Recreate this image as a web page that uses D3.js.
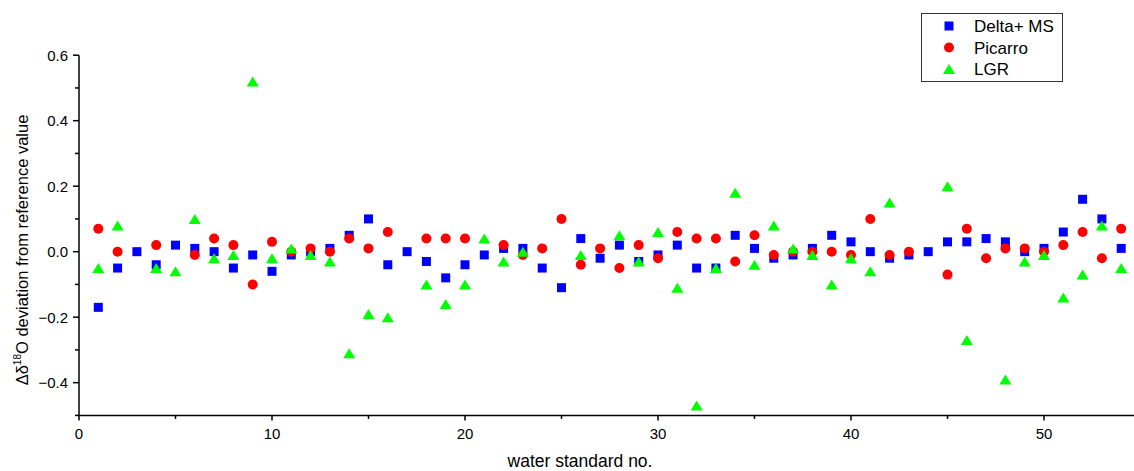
<!DOCTYPE html>
<html>
<head>
<meta charset="utf-8">
<script src="https://cdn.jsdelivr.net/npm/d3@7"></script>
<style>
  html, body { margin: 0; padding: 0; background: #fff; }
  svg { display: block; font-family: "Liberation Sans", Arial, Helvetica, sans-serif; }
</style>
</head>
<body>
<svg id="chart" width="1134" height="471"></svg>
<script>
// Water standard numbers (x categories)
const standardNo = d3.range(1, 55);

// Deviation of δ18O from the reference value, per instrument (null = not measured)
const deltaMS = [
  -0.17, -0.05, 0.00, -0.04, 0.02, 0.01, 0.00, -0.05, -0.01, -0.06,
  -0.01, 0.00, 0.01, 0.05, 0.10, -0.04, 0.00, -0.03, -0.08, -0.04,
  -0.01, 0.01, 0.01, -0.05, -0.11, 0.04, -0.02, 0.02, -0.03, -0.01,
  0.02, -0.05, -0.05, 0.05, 0.01, -0.02, -0.01, 0.01, 0.05, 0.03,
  0.00, -0.02, -0.01, 0.00, 0.03, 0.03, 0.04, 0.03, 0.00, 0.01,
  0.06, 0.16, 0.10, 0.01
];
const picarro = [
  0.07, 0.00, null, 0.02, null, -0.01, 0.04, 0.02, -0.10, 0.03,
  0.00, 0.01, 0.00, 0.04, 0.01, 0.06, null, 0.04, 0.04, 0.04,
  null, 0.02, -0.01, 0.01, 0.10, -0.04, 0.01, -0.05, 0.02, -0.02,
  0.06, 0.04, 0.04, -0.03, 0.05, -0.01, 0.00, 0.00, 0.00, -0.01,
  0.10, -0.01, 0.00, null, -0.07, 0.07, -0.02, 0.01, 0.01, 0.00,
  0.02, 0.06, -0.02, 0.07
];
const lgr = [
  -0.05, 0.08, null, -0.05, -0.06, 0.10, -0.02, -0.01, 0.52, -0.02,
  0.01, -0.01, -0.03, -0.31, -0.19, -0.20, null, -0.10, -0.16, -0.10,
  0.04, -0.03, 0.00, null, null, -0.01, null, 0.05, -0.03, 0.06,
  -0.11, -0.47, -0.05, 0.18, -0.04, 0.08, 0.01, -0.01, -0.10, -0.02,
  -0.06, 0.15, null, null, 0.20, -0.27, null, -0.39, -0.03, -0.01,
  -0.14, -0.07, 0.08, -0.05
];

// Axis tick values
const xMajorTicks = [0, 10, 20, 30, 40, 50];
const xMinorTicks = [5, 15, 25, 35, 45, 55];
const yMajorTicks = [-0.4, -0.2, 0.0, 0.2, 0.4, 0.6];
const yMinorTicks = [-0.5, -0.3, -0.1, 0.1, 0.3, 0.5];

const seriesNames = ["Delta+ MS", "Picarro", "LGR"];

const svg = d3.select("#chart");

const x = d3.scaleLinear().domain([0, 55]).range([79, 1140.5]);
const y = d3.scaleLinear().domain([-0.5, 0.6]).range([415.4, 55.2]);

// Symbol path generators
const squarePath = s => `M${-s/2},${-s/2}h${s}v${s}h${-s}Z`;
const trianglePath = (w, h) => `M0,${-h/2}L${w/2},${h/2}L${-w/2},${h/2}Z`;

const series = [
  { name: seriesNames[0], values: deltaMS, color: "#0000ff", shape: "square" },
  { name: seriesNames[1], values: picarro, color: "#ff0000", shape: "circle" },
  { name: seriesNames[2], values: lgr,     color: "#00ff00", shape: "triangle" }
];

function drawSymbol(g, shape, color) {
  if (shape === "circle") {
    g.append("circle").attr("r", 5).attr("fill", color);
  } else if (shape === "square") {
    g.append("path").attr("d", squarePath(9)).attr("fill", color);
  } else {
    g.append("path").attr("d", trianglePath(12, 10)).attr("fill", color);
  }
}

// Axes
const axisG = svg.append("g").attr("stroke", "#000").attr("stroke-width", 1.5);
axisG.append("line").attr("x1", x(0)).attr("x2", 1134).attr("y1", y(-0.5)).attr("y2", y(-0.5));
axisG.append("line").attr("x1", x(0)).attr("x2", x(0)).attr("y1", y(-0.5) + 0.75).attr("y2", y(0.6));

// X ticks
axisG.selectAll(".xmaj").data(xMajorTicks).join("line")
  .attr("x1", d => x(d)).attr("x2", d => x(d))
  .attr("y1", y(-0.5)).attr("y2", y(-0.5) + 5);
axisG.selectAll(".xmin").data(xMinorTicks).join("line")
  .attr("x1", d => x(d)).attr("x2", d => x(d))
  .attr("y1", y(-0.5)).attr("y2", y(-0.5) + 3.5);

// Y ticks
axisG.selectAll(".ymaj").data(yMajorTicks).join("line")
  .attr("x1", x(0) - 6).attr("x2", x(0))
  .attr("y1", d => y(d)).attr("y2", d => y(d));
axisG.selectAll(".ymin").data(yMinorTicks).join("line")
  .attr("x1", x(0) - 4).attr("x2", x(0))
  .attr("y1", d => y(d)).attr("y2", d => y(d));

// Tick labels
svg.append("g").selectAll("text").data(xMajorTicks).join("text")
  .attr("x", d => x(d)).attr("y", 439)
  .attr("text-anchor", "middle").attr("font-size", 15).attr("fill", "#000")
  .text(d => d);

svg.append("g").selectAll("text").data(yMajorTicks).join("text")
  .attr("x", 68).attr("y", d => y(d) + 5.4)
  .attr("text-anchor", "end").attr("font-size", 15).attr("fill", "#000")
  .text(d => d3.format(".1f")(d));

// Axis titles
svg.append("text")
  .attr("x", 580).attr("y", 467)
  .attr("text-anchor", "middle").attr("font-size", 17.5).attr("fill", "#000")
  .text("water standard no.");

const yTitle = svg.append("text")
  .attr("transform", "translate(28,250) rotate(-90)")
  .attr("text-anchor", "middle").attr("font-size", 16.5).attr("fill", "#000");
yTitle.append("tspan").text("Δδ");
yTitle.append("tspan").attr("font-size", 10).attr("dy", -7).text("18");
yTitle.append("tspan").attr("dy", 7).text("O deviation from reference value");

// Data points: squares, then circles, then triangles on top
series.forEach(s => {
  const pts = standardNo.map((n, i) => ({ n, v: s.values[i] })).filter(d => d.v !== null);
  const g = svg.append("g");
  pts.forEach(d => {
    const pg = g.append("g").attr("transform", `translate(${x(d.n)},${y(d.v)})`);
    drawSymbol(pg, s.shape, s.color);
  });
});

// Legend
const legend = svg.append("g");
legend.append("rect")
  .attr("x", 921.5).attr("y", 13.5).attr("width", 141).attr("height", 68)
  .attr("fill", "#fff").attr("stroke", "#333").attr("stroke-width", 1);
series.forEach((s, i) => {
  const cy = 26 + i * 21.5;
  const sg = legend.append("g").attr("transform", `translate(949,${cy})`);
  drawSymbol(sg, s.shape, s.color);
  legend.append("text")
    .attr("x", 974).attr("y", cy + 6)
    .attr("font-size", 17).attr("fill", "#000")
    .text(s.name);
});
</script>
</body>
</html>
